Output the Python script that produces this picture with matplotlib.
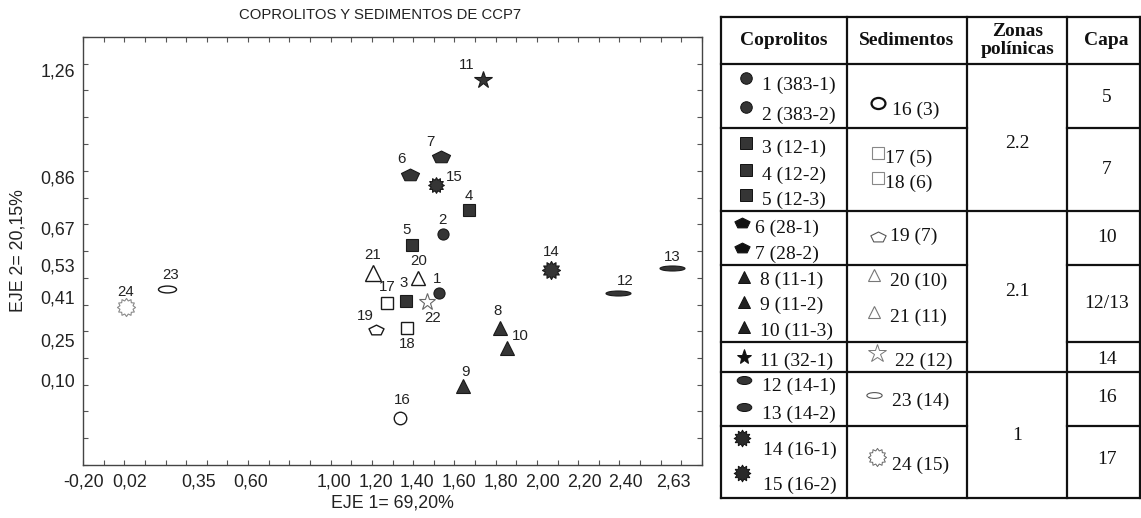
import numpy as np
import matplotlib
matplotlib.use("Agg")
import matplotlib.pyplot as plt
import matplotlib.path as mpath

# ---------------- data ----------------
ids = list(range(1, 25))
eje1 = [1.504, 1.524, 1.347, 1.646, 1.373, 1.365, 1.512, 1.796, 1.617, 1.830,
        1.716, 2.364, 2.623, 2.039, 1.489, 1.317, 1.253, 1.349, 1.201, 1.404,
        1.188, 1.447, 0.200, 0.001]
eje2 = [0.425, 0.646, 0.398, 0.737, 0.607, 0.867, 0.936, 0.294, 0.079, 0.220,
        1.223, 0.425, 0.521, 0.514, 0.830, -0.040, 0.388, 0.294, 0.288, 0.484,
        0.500, 0.392, 0.441, 0.373]

xtick_vals = [-0.20, 0.02, 0.35, 0.60, 1.00, 1.20, 1.40, 1.60, 1.80, 2.00, 2.20, 2.40, 2.63]
ytick_vals = [0.10, 0.25, 0.41, 0.53, 0.67, 0.86, 1.26]

title = "COPROLITOS Y SEDIMENTOS DE CCP7"
xlabel = "EJE 1= 69,20%"
ylabel = "EJE 2= 20,15%"

# table content
headers = ["Coprolitos", "Sedimentos", "Zonas\npolínicas", "Capa"]
cop_labels = ["1 (383-1)", "2 (383-2)", "3 (12-1)", "4 (12-2)", "5 (12-3)",
              "6 (28-1)", "7 (28-2)", "8 (11-1)", "9 (11-2)", "10 (11-3)",
              "11 (32-1)", "12 (14-1)", "13 (14-2)", "14 (16-1)", "15 (16-2)"]
sed_labels = ["16 (3)", "17 (5)", "18 (6)", "19 (7)", "20 (10)", "21 (11)",
              "22 (12)", "23 (14)", "24 (15)"]
zonas = ["2.2", "2.1", "1"]
capas = ["5", "7", "10", "12/13", "14", "16", "17"]

# ---------------- marker shapes ----------------
def scaled(path, sx, sy):
    return mpath.Path(path.vertices * np.array([sx, sy]), path.codes)

ellipse_w = scaled(mpath.Path.unit_circle(), 1, 0.2)
ellipse_o = scaled(mpath.Path.unit_circle(), 1, 0.38)
capsule = scaled(mpath.Path.unit_circle(), 1, 0.55)
pent_flat = scaled(mpath.Path.unit_regular_polygon(5), 1, 0.68)
sun = mpath.Path.unit_regular_star(12, 0.7)
sun_open = mpath.Path.unit_regular_star(12, 0.75)

DARK = "#353535"
EDGE = "#1a1a1a"
GREY = "#8a8a8a"

# style per point: marker, size(pt), face, edge, lw
styles = {}
for i in (1, 2):
    styles[i] = ("o", 8.0, DARK, EDGE, 0.8)
for i in (3, 4, 5):
    styles[i] = ("s", 8.3, DARK, EDGE, 0.8)
for i in (6, 7):
    styles[i] = (pent_flat, 13.0, DARK, EDGE, 0.8)
for i in (8, 9, 10):
    styles[i] = ("^", 9.6, DARK, EDGE, 0.8)
styles[11] = ("*", 13.0, DARK, EDGE, 0.8)
for i in (12, 13):
    styles[i] = (ellipse_w, 18.0, DARK, EDGE, 0.8)
styles[14] = (sun, 13.0, DARK, EDGE, 0.8)
styles[15] = (sun, 11.3, DARK, EDGE, 0.8)
styles[16] = ("o", 9.0, "white", EDGE, 1.0)
for i in (17, 18):
    styles[i] = ("s", 8.4, "white", EDGE, 1.0)
styles[19] = (pent_flat, 10.8, "white", EDGE, 1.0)
styles[20] = ("^", 10.0, "white", EDGE, 1.0)
styles[21] = ("^", 11.8, "white", EDGE, 1.0)
styles[22] = ("*", 12.6, "white", "#666666", 0.8)
styles[23] = (ellipse_o, 13.0, "white", EDGE, 1.0)
styles[24] = (sun_open, 13.0, "white", GREY, 0.8)

# label offsets in pixels (dx, dy up)
lab_off = {1: (-2, 14), 2: (-1, 14), 3: (-3, 18), 4: (0, 14), 5: (-5, 15),
           6: (-9, 16), 7: (-10, 15), 8: (-2, 17), 9: (3, 14), 10: (13, 12),
           11: (-17, 15), 12: (7, 12), 13: (0, 11), 14: (1, 18), 15: (18, 8),
           16: (2, 18), 17: (0, 16), 18: (0, -16), 19: (-11, 14), 20: (0, 17),
           21: (-1, 18), 22: (5, -16), 23: (3, 14), 24: (0, 15)}

# ---------------- figure ----------------
W, H = 1141, 518
fig = plt.figure(figsize=(W / 100, H / 100), dpi=100)
sans = ["Liberation Sans", "DejaVu Sans"]
serif = ["Liberation Serif", "DejaVu Serif"]
TXT = "#222222"

L, R, T, B = 83, 702, 37, 465
ax = fig.add_axes([L / W, 1 - B / H, (R - L) / W, (B - T) / H])
xmin, xmax = -0.204, 2.765
ymin, ymax = -0.2166, 1.3834
ax.set_xlim(xmin, xmax)
ax.set_ylim(ymin, ymax)

for i, x, y in zip(ids, eje1, eje2):
    m, ms, fc, ec, lw = styles[i]
    ax.plot([x], [y], marker=m, markersize=ms, markerfacecolor=fc,
            markeredgecolor=ec, markeredgewidth=lw, linestyle="none", zorder=3)
    dx, dy = lab_off[i]
    ax.annotate(str(i), (x, y), xytext=(dx * 0.72, dy * 0.72),
                textcoords="offset points", ha="center", va="center",
                fontsize=10.8, family=sans, color=TXT)

ax.set_xticks(xtick_vals)
ax.set_xticklabels([f"{v:.2f}".replace(".", ",") for v in xtick_vals])
ax.set_yticks(ytick_vals)
ax.set_yticklabels([f"{v:.2f}".replace(".", ",") for v in ytick_vals])
ax.set_xticks(np.linspace(xmin, xmax, 31), minor=True)
ax.set_yticks(np.linspace(ymin, ymax, 17), minor=True)
ax.tick_params(which="major", length=0, labelsize=12.8, labelcolor=TXT, pad=6)
ax.tick_params(which="minor", direction="in", length=3.5, width=0.8,
               color="#555555", top=True, right=True)
for lab in ax.get_xticklabels() + ax.get_yticklabels():
    lab.set_family(sans)
for s in ax.spines.values():
    s.set_color("#444444")
    s.set_linewidth(1.0)

ax.set_xlabel(xlabel, fontsize=12.8, family=sans, color=TXT, labelpad=3)
ax.set_ylabel(ylabel, fontsize=12.8, family=sans, color=TXT, labelpad=10)
fig.text(380 / W, 1 - 15 / H, title, ha="center", va="center",
         fontsize=10.7, family=sans, color=TXT)

# ---------------- table ----------------
tab = fig.add_axes([0, 0, 1, 1], facecolor="none")
tab.set_xlim(0, W)
tab.set_ylim(H, 0)
tab.axis("off")

cols = [721, 846.7, 967.3, 1067.3, 1140.2]
rows = [16.7, 64.3, 128.3, 211, 265, 342.3, 372.3, 425.7, 498.3]
LW = 1.6
LC = "#111111"
for x in cols:
    tab.plot([x, x], [rows[0], rows[-1]], color=LC, lw=LW, solid_capstyle="projecting")
for y in (rows[0], rows[1], rows[-1]):
    tab.plot([cols[0], cols[-1]], [y, y], color=LC, lw=LW)
for y in rows[2:-1]:
    if y in (211, 372.3):
        tab.plot([cols[0], cols[-1]], [y, y], color=LC, lw=LW)
    else:
        tab.plot([cols[0], cols[2]], [y, y], color=LC, lw=LW)
        tab.plot([cols[3], cols[4]], [y, y], color=LC, lw=LW)

# headers
hx = [(cols[0] + cols[1]) / 2, (cols[1] + cols[2]) / 2, (cols[2] + cols[3]) / 2, 1106.7]
for x, h in zip(hx, headers):
    tab.text(x, 40.8, h, ha="center", va="center", fontsize=14, family=serif,
             weight="bold", color=LC, linespacing=1.08)

# coprolitos entries: marker pos, text pos
cop_mk = [(745.7, 78.3), (745.7, 106.7), (745.7, 143.3), (745.7, 170), (745.7, 195),
          (741.7, 223.3), (741.7, 248.3), (744.3, 276.7), (744.3, 301.7), (744.3, 326.7),
          (744.3, 356.7), (744.3, 380), (744.3, 406.7), (741.7, 438.3), (741.7, 473.3)]
cop_tx = [(761.7, 85), (761.7, 115), (761.7, 148.3), (761.7, 175), (761.7, 200),
          (755, 228.3), (755, 254.3), (760, 280), (760, 305), (760, 331),
          (760, 361), (761.7, 386.7), (761.7, 414.3), (763, 450), (763, 485)]
cop_style = [("o", 8.3, DARK), ("o", 8.3, DARK), ("s", 8.3, DARK), ("s", 8.3, DARK),
             ("s", 8.3, DARK), (pent_flat, 11.0, "#111111"), (pent_flat, 11.0, "#111111"),
             ("^", 9.3, "#222222"), ("^", 9.3, "#222222"), ("^", 9.3, "#222222"),
             ("*", 11.0, "#111111"), (capsule, 10.5, DARK), (capsule, 10.5, DARK),
             (sun, 12.0, "#2a2a2a"), (sun, 12.0, "#2a2a2a")]
for (mx, my), (tx, ty), (m, ms, fc), lab in zip(cop_mk, cop_tx, cop_style, cop_labels):
    tab.plot([mx], [my], marker=m, markersize=ms, markerfacecolor=fc,
             markeredgecolor="#111111", markeredgewidth=0.7, linestyle="none")
    tab.text(tx, ty, lab, ha="left", va="center", fontsize=14, family=serif, color=LC)

sed_mk = [(878.3, 103.3), (878.3, 153.3), (878.3, 178.3), (878.3, 236.7), (874.3, 275),
          (874.3, 311.7), (876.7, 353.3), (874.3, 395), (876.7, 456.7)]
sed_tx = [(891.7, 110), (885, 158.3), (885, 183.3), (890, 236.7), (890, 281),
          (890, 317.7), (895, 361), (891.7, 401.7), (891.7, 465.7)]
sed_style = [(scaled(mpath.Path.unit_circle(), 1, 0.8), 10.0, "#111111", 1.6),
             ("s", 8.0, "#888888", 0.8), ("s", 8.0, "#888888", 0.8),
             (pent_flat, 11.0, "#555555", 0.8), ("^", 8.5, "#777777", 0.8),
             ("^", 8.5, "#777777", 0.8), ("*", 13.5, "#777777", 0.7),
             (ellipse_o, 11.0, "#555555", 0.8), (sun_open, 13.0, "#666666", 0.7)]
for (mx, my), (tx, ty), (m, ms, ec, lw), lab in zip(sed_mk, sed_tx, sed_style, sed_labels):
    tab.plot([mx], [my], marker=m, markersize=ms, markerfacecolor="white",
             markeredgecolor=ec, markeredgewidth=lw, linestyle="none")
    tab.text(tx, ty, lab, ha="left", va="center", fontsize=14, family=serif, color=LC)

zx = (cols[2] + cols[3]) / 2
for z, zy in zip(zonas, [143, 292, 435]):
    tab.text(zx, zy, z, ha="center", va="center", fontsize=14, family=serif, color=LC)
for c, cy in zip(capas, [97, 170, 237, 303, 360, 398, 460]):
    tab.text(1107, cy, c, ha="center", va="center", fontsize=14, family=serif, color=LC)

fig.savefig("out.png", dpi=100)
